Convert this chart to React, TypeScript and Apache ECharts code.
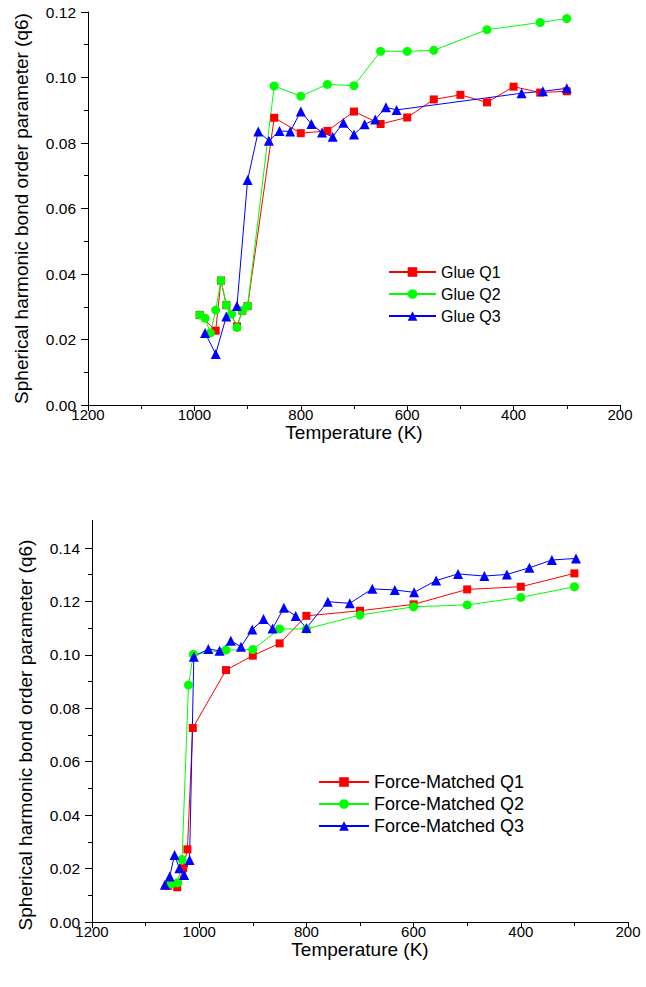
import React, { useEffect, useRef } from "react";
import * as echarts from "echarts";

// ---------- Data (Temperature K, q6) ----------
const glueQ1: [number, number][] = [
  [990, 0.0275], [960, 0.0227], [950, 0.038], [940, 0.0305], [920, 0.024], [910, 0.0288], [900, 0.0302],
  [850, 0.0877], [800, 0.083], [750, 0.0837], [700, 0.0896], [650, 0.0858], [600, 0.0878],
  [550, 0.0933], [500, 0.0947], [450, 0.0924], [400, 0.0972], [350, 0.0954], [300, 0.0958],
];
const glueQ2: [number, number][] = [
  [990, 0.0275], [980, 0.0265], [970, 0.022], [960, 0.029], [950, 0.038], [940, 0.0305], [930, 0.0278],
  [920, 0.0237], [910, 0.0288], [900, 0.0302], [850, 0.0974], [800, 0.0943], [750, 0.0979],
  [700, 0.0975], [650, 0.108], [600, 0.108], [550, 0.1083], [450, 0.1146], [350, 0.1168], [300, 0.118],
];
const glueQ3: [number, number][] = [
  [980, 0.022], [960, 0.0156], [940, 0.027], [920, 0.0302], [900, 0.0687], [880, 0.0835], [860, 0.0807],
  [840, 0.0837], [820, 0.0835], [800, 0.0896], [780, 0.0858], [760, 0.0832], [740, 0.0819],
  [720, 0.0862], [700, 0.0826], [680, 0.0857], [660, 0.0872], [640, 0.0909], [620, 0.0901],
  [385, 0.0952], [345, 0.0958], [300, 0.0967],
];

const fmQ1: [number, number][] = [
  [1058, 0.0135], [1041, 0.013], [1030, 0.0201], [1022, 0.0272], [1012, 0.0726], [950, 0.0943],
  [900, 0.0997], [850, 0.1043], [800, 0.1146], [700, 0.1165], [600, 0.1189], [500, 0.1245],
  [400, 0.1255], [300, 0.1305],
];
const fmQ2: [number, number][] = [
  [1052, 0.0142], [1040, 0.0147], [1032, 0.0234], [1020, 0.0887], [1011, 0.1002], [950, 0.1018],
  [900, 0.102], [850, 0.1097], [800, 0.1097], [700, 0.1149], [600, 0.118], [500, 0.1187],
  [400, 0.1215], [300, 0.1255],
];
const fmQ3: [number, number][] = [
  [1064, 0.0139], [1055, 0.017], [1046, 0.0251], [1037, 0.0201], [1028, 0.0176], [1018, 0.0232],
  [1010, 0.0993], [983, 0.1022], [962, 0.1015], [941, 0.1053], [922, 0.103], [901, 0.1095],
  [880, 0.1134], [863, 0.1099], [842, 0.1176], [820, 0.1145], [800, 0.1101], [760, 0.1199],
  [719, 0.1193], [677, 0.1247], [635, 0.1243], [599, 0.1234], [558, 0.1278], [517, 0.1303],
  [468, 0.1295], [426, 0.1301], [384, 0.1326], [342, 0.1355], [297, 0.1361],
];

const topNames = ["Glue Q1", "Glue Q2", "Glue Q3"];
const bottomNames = ["Force-Matched Q1", "Force-Matched Q2", "Force-Matched Q3"];
const xTitle = "Temperature (K)";
const yTitle = "Spherical harmonic bond order parameter (q6)";

const FONT = "'Liberation Sans', Arial, Helvetica, sans-serif";
const COLORS = ["#ff0000", "#00ff00", "#0000ff"];
const SYMBOLS = ["rect", "circle", "triangle"];
const SIZES = [8, 9, 10];

export default function App() {
  const ref = useRef<HTMLDivElement>(null);

  useEffect(() => {
    if (!ref.current) return;
    const chart = echarts.init(ref.current, undefined, { renderer: "svg" });

    const xAxisBase = (gridIndex: number) => ({
      gridIndex,
      type: "value",
      min: 200,
      max: 1200,
      interval: 200,
      inverse: true,
      name: xTitle,
      nameLocation: "middle",
      nameGap: 14,
      nameTextStyle: { fontSize: 19, color: "#000", fontFamily: FONT },
      axisLine: { show: true, onZero: false, lineStyle: { color: "#000", width: 1 } },
      axisTick: { show: true, length: 6, lineStyle: { color: "#000", width: 1 } },
      minorTick: { show: true, splitNumber: 2, length: 4, lineStyle: { color: "#000", width: 1 } },
      axisLabel: {
        fontSize: 15,
        color: "#000",
        margin: 2,
        fontFamily: FONT,
        showMinLabel: true,
        showMaxLabel: true,
        formatter: (v: number) => String(v),
      },
      splitLine: { show: false },
      minorSplitLine: { show: false },
    });

    const yAxisBase = (gridIndex: number, max: number) => ({
      gridIndex,
      type: "value",
      min: 0,
      max,
      interval: 0.02,
      name: yTitle,
      nameLocation: "middle",
      nameGap: 57,
      nameTextStyle: { fontSize: 19, color: "#000", fontFamily: FONT },
      axisLine: { show: true, onZero: false, lineStyle: { color: "#000", width: 1 } },
      axisTick: { show: true, length: 7, lineStyle: { color: "#000", width: 1 } },
      minorTick: { show: true, splitNumber: 2, length: 4, lineStyle: { color: "#000", width: 1 } },
      axisLabel: {
        fontSize: 15.5,
        color: "#000",
        margin: 12,
        fontFamily: FONT,
        formatter: (v: number) => v.toFixed(2),
      },
      splitLine: { show: false },
      minorSplitLine: { show: false },
    });

    const mkSeries = (name: string, data: [number, number][], idx: number, axisIndex: number) => ({
      name,
      type: "line",
      xAxisIndex: axisIndex,
      yAxisIndex: axisIndex,
      data,
      symbol: SYMBOLS[idx],
      symbolSize: SIZES[idx],
      showAllSymbol: true,
      color: COLORS[idx],
      itemStyle: { color: COLORS[idx] },
      lineStyle: { color: COLORS[idx], width: 1 },
      clip: false,
    });

    const legendBase = {
      orient: "vertical",
      padding: 0,
      itemHeight: 12,
    };

    chart.setOption({
      animation: false,
      backgroundColor: "#fff",
      grid: [
        { left: 88, top: 12, width: 532, height: 393 },
        { left: 92, top: 548, width: 536, height: 374 },
      ],
      xAxis: [xAxisBase(0), xAxisBase(1)],
      yAxis: [yAxisBase(0, 0.12), yAxisBase(1, 0.14)],
      legend: [
        {
          ...legendBase,
          data: topNames,
          left: 388,
          top: 264,
          itemWidth: 47,
          itemGap: 6,
          textStyle: { fontSize: 16, color: "#000", fontFamily: FONT },
        },
        {
          ...legendBase,
          data: bottomNames,
          left: 318,
          top: 773,
          itemWidth: 50,
          itemGap: 4,
          textStyle: { fontSize: 18, color: "#000", fontFamily: FONT },
        },
      ],
      graphic: [
        {
          type: "line",
          shape: { x1: 92.5, y1: 520, x2: 92.5, y2: 548 },
          style: { stroke: "#000", lineWidth: 1 },
        },
      ],
      series: [
        mkSeries(topNames[0], glueQ1, 0, 0),
        mkSeries(topNames[1], glueQ2, 1, 0),
        mkSeries(topNames[2], glueQ3, 2, 0),
        mkSeries(bottomNames[0], fmQ1, 0, 1),
        mkSeries(bottomNames[1], fmQ2, 1, 1),
        mkSeries(bottomNames[2], fmQ3, 2, 1),
      ],
    });

    return () => chart.dispose();
  }, []);

  return (
    <div
      ref={ref}
      style={{ position: "absolute", left: 0, top: 0, width: 646, height: 987, background: "#fff" }}
    />
  );
}
